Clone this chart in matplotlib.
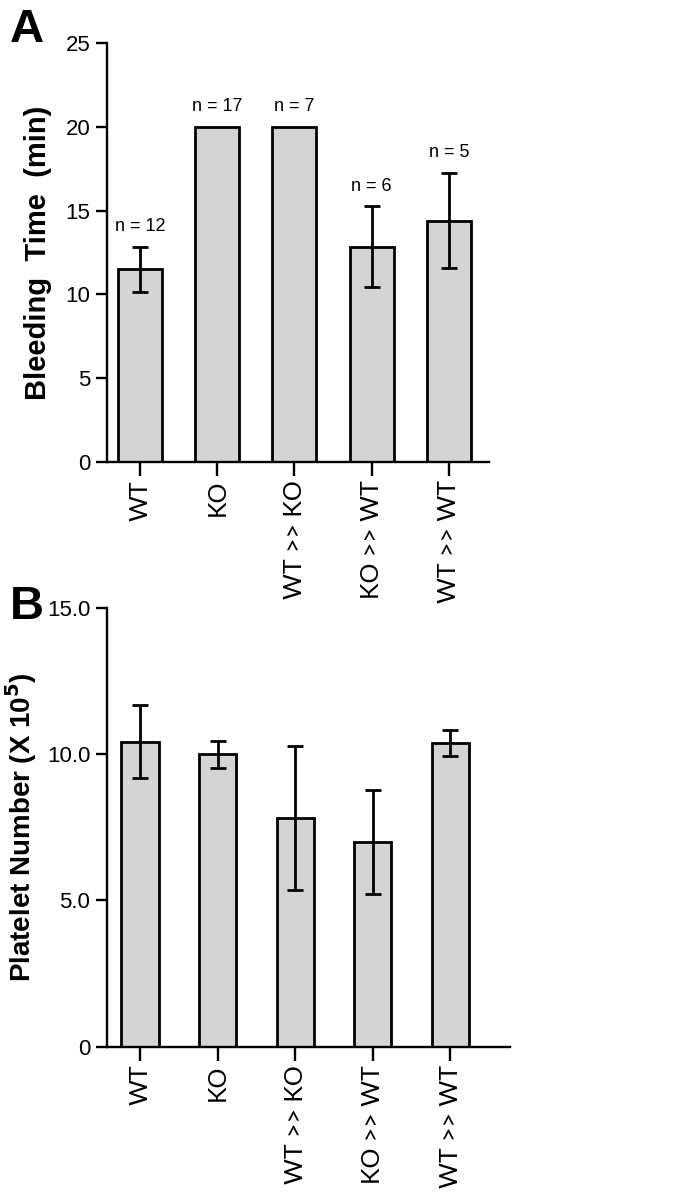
import matplotlib
matplotlib.use("Agg")
import matplotlib.pyplot as plt

# groups (same order in both panels)
groups = ["WT", "KO", "WT >> KO", "KO >> WT", "WT >> WT"]

# panel A: bleeding time (min); KO groups have no error bar
bleed_mean = [11.5, 20.0, 20.0, 12.85, 14.4]
bleed_err = [1.35, 0.0, 0.0, 2.4, 2.85]
bleed_n = ["n = 12", "n = 17", "n = 7", "n = 6", "n = 5"]

# panel B: platelet number (x 10^5)
plt_mean = [10.42, 9.99, 7.82, 7.0, 10.39]
plt_err = [1.25, 0.45, 2.45, 1.78, 0.45]

plt.rcParams["font.family"] = ["Liberation Sans", "DejaVu Sans"]
plt.rcParams["axes.linewidth"] = 1.7

fig = plt.figure(figsize=(6.86, 11.99), dpi=100)
axA = fig.add_axes([0.156, 0.6147, 0.557, 0.3495])
axB = fig.add_axes([0.156, 0.127, 0.5875, 0.366])

fill = "#d4d4d4"
x = list(range(len(groups)))


def style(ax):
    for s in ["top", "right"]:
        ax.spines[s].set_visible(False)
    ax.tick_params(axis="y", direction="out", length=8, width=1.7, labelsize=16, pad=4)
    ax.tick_params(axis="x", direction="out", length=10, width=1.7, pad=3)
    ax.set_xticks(x)
    ax.set_xticklabels(groups, rotation=90, fontsize=18, family="Lato", va="top")


# panel A
axA.bar(x, bleed_mean, width=0.57, color=fill, edgecolor="black", linewidth=2, zorder=2)
ex = [i for i in x if bleed_err[i] > 0]
axA.errorbar(ex, [bleed_mean[i] for i in ex], yerr=[bleed_err[i] for i in ex],
             fmt="none", ecolor="black", elinewidth=2, capsize=5.5, capthick=2, zorder=3)
for i, (m, e, lab) in enumerate(zip(bleed_mean, bleed_err, bleed_n)):
    axA.text(i, m + e + 0.7, lab, ha="center", va="bottom", fontsize=13)
axA.set_xlim(-0.427, 4.52)
axA.set_ylim(0, 25)
axA.set_yticks([0, 5, 10, 15, 20, 25])
axA.set_ylabel("Bleeding  Time  (min)", fontsize=21, fontweight="bold", labelpad=10)
style(axA)

# panel B
axB.bar(x, plt_mean, width=0.48, color=fill, edgecolor="black", linewidth=2, zorder=2)
axB.errorbar(x, plt_mean, yerr=plt_err, fmt="none", ecolor="black",
             elinewidth=2, capsize=5.5, capthick=2, zorder=3)
axB.set_xlim(-0.426, 4.77)
axB.set_ylim(0, 15)
axB.set_yticks([0, 5, 10, 15])
axB.set_yticklabels(["0", "5.0", "10.0", "15.0"])
axB.set_ylabel("Platelet Number (X 10$^\\mathbf{5}$)", fontsize=20, fontweight="bold", labelpad=6)
style(axB)

fig.text(0.014, 0.975, "A", fontsize=34, fontweight="heavy", va="center")
fig.text(0.014, 0.4937, "B", fontsize=34, fontweight="heavy", va="center")

fig.savefig("out.png", dpi=100)
